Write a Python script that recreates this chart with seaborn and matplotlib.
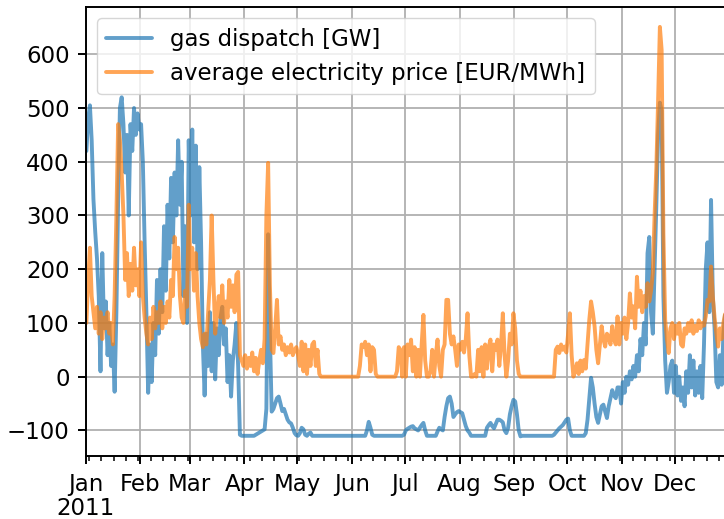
import pandas as pd
import matplotlib
matplotlib.use("Agg")
import matplotlib.pyplot as plt
import matplotlib.dates as mdates
from matplotlib.ticker import FuncFormatter, MultipleLocator
import seaborn as sns

# Daily gas dispatch [GW], 2011, in consecutive blocks
gas_p01 = [420, 480, 505, 440, 330, 270, 220, 150, 10, 230,
           90, 140, 40, 100, 20, 60, -28, 120, 330, 500,
           520, 470, 380, 450, 300, 470, 420, 500, 450, 490,
           460]
gas_p02 = [470, 400, 250, 120, -30, 60, -10, 100, 40, 180,
           80, 200, 120, 280, 160, 320, 220, 370, 250, 380,
           300, 440, 320, 400, 150, 280, 100]
gas_p03 = [440, 300, 460, 250, 430, 200, 390, 250, 60, -35,
           80, 20, 120, 10, 100, -5, 90, 40, 110, 130,
           60, 90, -10, 40, -37, 30, 60, 100, 20, -108,
           -110]
gas_p04 = [-110, -110, -110, -110, -110, -110, -110, -108, -106, -104,
           -102, -100, -98, -60, 265, 80, -65, -60, -50, -40,
           -37, -50, -64, -60, -70, -80, -85, -87, -95, -105]
gas_p05 = [-109, -110, -105, -95, -98, -108, -110, -106, -104, -110,
           -110, -110, -110, -110, -110, -110, -110, -110, -110, -110,
           -110, -110, -110, -110, -110, -110, -110, -110, -110, -110,
           -110]
gas_p06 = [-110, -110, -110, -110, -110, -110, -110, -110, -110, -100,
           -84, -95, -108, -110, -110, -110, -110, -110, -110, -110,
           -110, -110, -110, -110, -110, -110, -110, -110, -110, -110]
gas_p07 = [-108, -100, -97, -95, -93, -92, -96, -98, -100, -95,
           -90, -86, -100, -110, -110, -110, -110, -110, -110, -102,
           -95, -98, -100, -75, -55, -40, -37, -50, -75, -70]
gas_p08 = [-66, -64, -66, -68, -80, -92, -100, -104, -110, -110,
           -110, -110, -110, -110, -110, -110, -110, -95, -90, -86,
           -92, -96, -88, -80, -80, -82, -85, -100, -105, -95,
           -70]
gas_p09 = [-55, -43, -46, -70, -100, -111, -110, -110, -110, -110,
           -110, -110, -110, -110, -110, -110, -110, -110, -110, -110,
           -110, -110, -110, -110, -108, -104, -100, -96, -93, -90]
gas_p10 = [-85, -80, -78, -100, -110, -110, -110, -110, -110, -110,
           -110, -110, -105, -80, -40, -2, -20, -50, -75, -86,
           -70, -55, -52, -65, -77, -55, -40, -25, -35, -40,
           -20]
gas_p11 = [-20, -50, -10, -30, 0, -15, 10, -5, 20, 0,
           40, 10, 70, 40, 100, 60, 230, 260, 120, 80,
           200, 320, 450, 510, 495, 150, 30, -30, -10, 20]
gas_p12 = [30, -30, 20, -35, 0, -45, -20, -55, 10, -30,
           40, -20, 30, -35, 10, -30, 20, -40, 60, 200,
           250, 120, 329, 150, 90, -10, -20, 40, -15, 80,
           118, 100, 120]

# Daily average electricity price [EUR/MWh], same blocks
price_p01 = [100, 180, 240, 150, 120, 90, 130, 80, 120, 70,
             110, 90, 120, 80, 100, 60, 150, 300, 470, 440,
             380, 300, 180, 230, 150, 210, 160, 240, 170, 200,
             150]
price_p02 = [250, 150, 110, 80, 60, 110, 70, 130, 90, 120,
             100, 140, 90, 130, 100, 140, 110, 180, 150, 260,
             200, 240, 150, 110, 100, 160, 130]
price_p03 = [320, 200, 240, 160, 230, 150, 100, 70, 55, 80,
             60, 120, 180, 300, 180, 80, 120, 150, 110, 170,
             100, 140, 110, 180, 130, 170, 120, 190, 195, 40,
             30]
price_p04 = [20, 40, 15, 35, 20, 45, 10, 35, 5, 30,
             50, 25, 70, 300, 398, 170, 50, 44, 90, 143,
             60, 75, 50, 60, 40, 55, 45, 60, 40, 50]
price_p05 = [55, 40, 20, 65, 10, 60, 5, 50, 20, 60,
             65, 20, 50, 5, 0, 0, 0, 0, 0, 0,
             0, 0, 0, 0, 0, 0, 0, 0, 0, 0,
             0]
price_p06 = [0, 0, 0, 0, 0, 20, 60, 55, 65, 40,
             60, 10, 55, 50, 5, 0, 0, 0, 0, 0,
             0, 0, 0, 0, 0, 0, 10, 55, 50, 0]
price_p07 = [55, 0, 60, 40, 69, 10, 55, 0, 50, 0,
             60, 115, 30, 0, 0, 10, 50, 0, 40, 69,
             20, 0, 50, 60, 143, 143, 80, 60, 75, 50]
price_p08 = [20, 60, 50, 65, 45, 70, 118, 40, 0, 0,
             5, 0, 50, 10, 55, 0, 60, 15, 55, 69,
             10, 60, 50, 69, 20, 60, 118, 40, 0, 30,
             80]
price_p09 = [60, 118, 90, 30, 5, 0, 0, 0, 0, 0,
             0, 0, 0, 0, 0, 0, 0, 0, 0, 0,
             0, 0, 0, 0, 0, 50, 56, 44, 60, 50]
price_p10 = [56, 45, 80, 118, 40, 0, 10, 25, 5, 30,
             10, 31, 15, 60, 106, 140, 120, 94, 50, 25,
             60, 94, 70, 56, 80, 75, 60, 94, 70, 60,
             112]
price_p11 = [60, 100, 80, 110, 70, 100, 155, 110, 131, 90,
             186, 130, 160, 120, 150, 130, 174, 140, 160, 193,
             300, 390, 515, 651, 608, 267, 106, 70, 44, 90]
price_p12 = [100, 70, 95, 80, 100, 60, 56, 90, 80, 100,
             85, 105, 80, 95, 85, 105, 90, 100, 95, 112,
             143, 140, 205, 150, 110, 80, 56, 90, 70, 100,
             118, 90, 110]

gas_dispatch = (gas_p01 + gas_p02 + gas_p03 + gas_p04 + gas_p05 + gas_p06
                + gas_p07 + gas_p08 + gas_p09 + gas_p10 + gas_p11 + gas_p12)
electricity_price = (price_p01 + price_p02 + price_p03 + price_p04 + price_p05
                     + price_p06 + price_p07 + price_p08 + price_p09 + price_p10
                     + price_p11 + price_p12)

series_labels = ["gas dispatch [GW]", "average electricity price [EUR/MWh]"]
series_colors = ["#1f77b4", "#ff7f0e"]

n = min(len(gas_dispatch), len(electricity_price))
days = pd.date_range("2011-01-01 12:00", periods=n, freq="D")
df = pd.DataFrame({"time": days, "gas": gas_dispatch[:n], "price": electricity_price[:n]})

sns.set_theme(style="ticks", rc={
    "axes.edgecolor": "black",
    "axes.linewidth": 1.4,
    "xtick.color": "black",
    "ytick.color": "black",
    "text.color": "black",
    "axes.labelcolor": "black",
})
plt.rcParams["font.family"] = ["DejaVu Sans"]
plt.rcParams["font.size"] = 16.5

fig = plt.figure(figsize=(7.24, 5.19), dpi=100)
ax = fig.add_axes([0.1181, 0.1220, 0.8895, 0.8645])

for col, label, color in zip(["gas", "price"], series_labels, series_colors):
    sns.lineplot(data=df, x="time", y=col, ax=ax, color=color, alpha=0.7,
                 linewidth=2.8, label=label)

ax.set_xlim(pd.Timestamp("2011-01-01 00:00"), pd.Timestamp("2011-12-31 23:00"))
ax.set_ylim(-147, 688)
ax.yaxis.set_major_locator(MultipleLocator(100))

ax.xaxis.set_major_locator(mdates.MonthLocator())
ax.xaxis.set_minor_locator(mdates.WeekdayLocator(byweekday=mdates.MO))


def month_label(x, pos):
    d = mdates.num2date(x)
    return d.strftime("%b\n%Y") if d.month == 1 else d.strftime("%b")


ax.xaxis.set_major_formatter(FuncFormatter(month_label))
ax.set_xlabel("")
ax.set_ylabel("")

ax.grid(True, which="major", color="#b0b0b0", linewidth=1.3)
ax.tick_params(axis="both", which="major", labelsize=16.5, length=5.5, width=1.4, pad=6)
ax.tick_params(axis="x", which="major", pad=7)
ax.tick_params(axis="x", which="minor", length=3.5, width=1.1)
for tick in ax.xaxis.get_major_ticks():
    tick.label1.set_linespacing(1.05)

leg = ax.legend(loc="upper left", fontsize=16.5, frameon=True, framealpha=0.8,
                edgecolor="#cccccc", fancybox=True)
for h in leg.get_lines():
    h.set_alpha(0.7)
    h.set_linewidth(2.8)

fig.savefig("out.png", dpi=100)
